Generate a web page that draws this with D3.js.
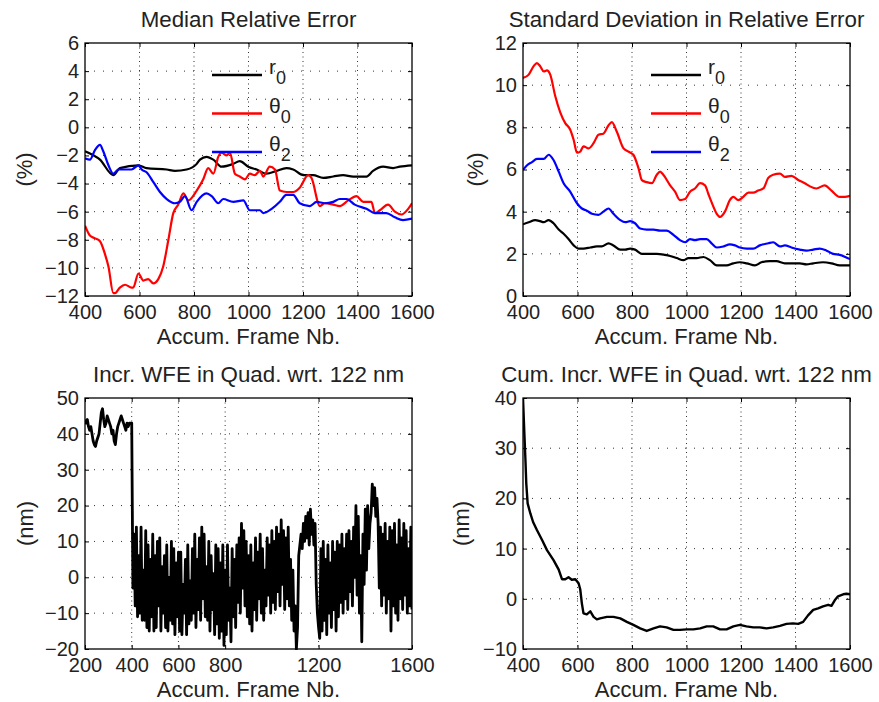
<!DOCTYPE html>
<html><head><meta charset="utf-8">
<script src="https://cdn.jsdelivr.net/npm/d3@7"></script>
<style>
body{margin:0;background:#fff}
text{font-family:"Liberation Sans",Arial,Helvetica,sans-serif;fill:#222}
</style>
</head><body>
<svg id="c" width="879" height="702"></svg>
<script>
// ---------------- DATA ----------------
// Panel 1: Median Relative Error (%)
const medR0X = [400,455,504,528,596,626,700,730,773,810,822,846,871,901,944,968,999,1030,1066,1103,1139,1164,1201,1237,1274,1311,1347,1384,1433,1457,1494,1531,1555,1600];
const medR0Y = [-1.7,-2.3,-3.4,-2.9,-2.7,-2.9,-3.0,-3.1,-3.0,-2.6,-2.3,-2.1,-2.3,-2.8,-2.6,-2.4,-2.8,-3.0,-3.3,-3.1,-2.9,-3.0,-3.4,-3.4,-3.6,-3.5,-3.4,-3.5,-3.5,-3.1,-2.8,-2.9,-2.8,-2.7];
const medT0X = [400,418,437,455,473,486,504,510,528,547,571,577,596,614,632,651,669,687,706,724,742,761,779,810,834,852,871,889,901,920,932,950,968,987,1005,1023,1042,1054,1078,1097,1115,1139,1164,1188,1219,1231,1262,1280,1311,1335,1366,1396,1421,1451,1464,1482,1512,1537,1561,1586,1600];
const medT0Y = [-7.0,-7.7,-7.9,-8.1,-9.0,-9.9,-11.8,-11.8,-11.4,-11.2,-11.4,-11.4,-10.4,-10.9,-10.8,-11.1,-10.8,-9.9,-8.0,-6.1,-5.5,-4.7,-5.2,-4.5,-3.7,-2.9,-3.3,-2.1,-1.8,-2.0,-1.8,-3.3,-3.5,-3.7,-3.3,-3.4,-3.1,-3.5,-2.8,-3.0,-4.5,-4.6,-4.6,-4.3,-3.4,-3.6,-5.6,-5.4,-5.5,-5.6,-5.2,-4.9,-5.3,-5.3,-6.1,-5.9,-5.5,-6.0,-6.2,-5.8,-5.4];
const medT2X = [400,418,437,455,467,486,504,522,547,571,596,608,626,651,675,700,730,748,767,791,810,846,865,889,907,944,981,1005,1042,1054,1085,1115,1139,1164,1188,1225,1250,1280,1311,1335,1360,1390,1433,1464,1506,1537,1567,1600];
const medT2Y = [-2.2,-2.3,-1.6,-1.25,-1.7,-2.7,-3.3,-3.0,-3.0,-3.0,-2.7,-3.0,-3.2,-3.9,-4.6,-5.1,-5.4,-5.3,-4.9,-5.9,-5.3,-4.7,-4.9,-5.4,-5.1,-5.3,-5.2,-5.9,-5.9,-6.1,-5.8,-5.3,-4.8,-4.8,-5.4,-5.6,-5.3,-5.4,-5.3,-5.1,-5.1,-5.5,-5.8,-6.1,-6.1,-6.4,-6.6,-6.5];

// Panel 2: Standard Deviation in Relative Error (%)
const stdR0X = [400,421,445,463,476,494,512,531,549,567,586,604,622,647,671,689,714,732,757,775,793,811,836,860,891,921,940,964,989,1007,1037,1062,1086,1111,1147,1172,1196,1221,1251,1275,1306,1330,1361,1391,1416,1440,1465,1501,1532,1562,1600];
const stdR0Y = [3.4,3.5,3.6,3.55,3.5,3.6,3.45,3.15,2.95,2.7,2.4,2.25,2.25,2.3,2.35,2.35,2.5,2.4,2.2,2.2,2.25,2.2,2.0,2.0,2.0,1.95,1.9,1.8,1.7,1.8,1.8,1.85,1.7,1.45,1.45,1.55,1.6,1.55,1.45,1.6,1.65,1.65,1.55,1.55,1.55,1.5,1.55,1.6,1.55,1.45,1.45];
const stdT0X = [400,421,439,451,463,476,488,500,518,537,555,573,586,598,610,622,641,659,677,695,714,726,744,769,787,805,824,836,854,873,891,903,915,940,958,976,995,1013,1031,1050,1068,1080,1092,1111,1123,1141,1159,1172,1190,1208,1227,1245,1263,1282,1300,1318,1343,1361,1385,1410,1434,1453,1477,1507,1532,1562,1581,1600];
const stdT0Y = [10.34,10.5,10.9,11.05,10.9,10.65,10.7,10.5,9.5,8.7,8.2,7.9,7.4,6.8,6.85,7.1,7.0,7.25,7.65,7.7,8.1,8.25,7.8,7.0,6.85,6.7,6.05,5.5,5.4,5.35,5.75,5.9,5.75,5.25,4.95,4.55,4.6,4.95,5.1,5.35,5.25,4.85,4.45,3.9,3.75,4.0,4.55,4.7,4.55,4.7,4.9,4.9,5.0,5.1,5.6,5.75,5.8,5.65,5.7,5.5,5.35,5.2,5.1,5.25,5.0,4.7,4.7,4.75];
const stdT2X = [400,415,433,451,476,494,512,531,549,573,598,616,634,653,677,695,714,732,757,775,793,811,830,854,879,903,927,952,976,995,1013,1031,1050,1074,1092,1111,1135,1159,1178,1196,1221,1245,1269,1300,1318,1343,1361,1385,1416,1440,1465,1489,1514,1538,1562,1600];
const stdT2Y = [5.98,6.2,6.35,6.5,6.5,6.7,6.45,5.9,5.35,4.95,4.4,4.15,4.05,3.9,3.85,4.0,4.15,3.9,3.6,3.5,3.55,3.45,3.2,3.15,3.15,3.1,3.1,2.9,2.65,2.55,2.7,2.65,2.7,2.7,2.5,2.3,2.35,2.45,2.4,2.3,2.25,2.25,2.4,2.5,2.55,2.35,2.4,2.3,2.2,2.15,2.2,2.25,2.15,2.0,1.95,1.75];

// Panel 3: Incr. WFE in Quad. wrt. 122 nm (nm), one value every 5 frames
const incrPreX = d3.range(200, 401, 5);
const incrPreY = [44,43,44,42,41,42,40,38,37,36.5,38,39,40,43,46,47,44,42,43,45,44,43,42,40,41,38,37,40,42,43,44,45,44,43,42,41,43,42,43,43,43];
const incrPostX = d3.range(405, 1601, 5);
const incrPostY = [
 -3,12,-8,14,-11,6,-10,14,-12,2,-12,13,-14,9,-15,5,-11,12,-15,6,
 -14,10,-8,11,-15,3,-10,6,-14,9,-15,0,-12,10,-13,8,-16,4,-11,7,
 -15,7,-16,-2,-10,5,-16,9,-13,-1,-12,8,-10,12,-14,5,-9,11,-12,14,
 -6,12,-11,3,-12,10,-15,6,-9,1,-16,9,-13,8,-17,4,-15,9,-19,2,
 -16,9,-12,-3,-18,8,-11,5,-14,9,-7,11,-10,15,-3,13,-8,10,-11,6,
 -13,9,-15,4,-9,11,-12,7,-6,12,-10,8,-12,2,-8,11,-5,9,-10,13,
 -7,10,-9,14,-4,12,-8,16,-2,13,-9,11,-6,14,-8,5,-12,2,-15,-8,
 -20,-14,6,9,12,8,15,10,17,11,18,9,19,12,16,9,15,-2,-10,-14,
 -17,8,-15,10,-12,5,-16,9,-10,4,-14,10,-9,7,-15,10,-11,9,-7,12,
 -10,8,-6,12,-9,13,-4,10,-8,14,0,20,-5,17,-10,6,-18,12,-2,19,
 2,20,8,15,18,26,20,25,17,22,15,-3,14,-8,12,-5,15,-10,10,-6,
 14,-15,13,-8,15,-10,9,-12,16,-6,11,-9,15,-5,13,-10,8,-8,14,-9];

// Panel 4: Cum. Incr. WFE in Quad. wrt. 122 nm (nm)
const cumX = [400,405,409,412,417,427,437,451,470,488,512,531,543,555,567,579,592,604,610,616,622,634,647,659,671,683,708,732,757,781,805,830,854,879,903,927,952,976,1001,1025,1050,1074,1098,1123,1147,1172,1196,1220,1245,1269,1294,1318,1343,1367,1391,1410,1428,1446,1465,1483,1501,1520,1532,1544,1556,1575,1587,1600];
const cumY = [40,32.9,27.6,23,19,17,15.3,13.7,11.7,9.7,7.7,5.8,3.9,3.9,4.3,3.8,3.9,3.1,1.9,-0.9,-2.9,-3.1,-2.5,-3.6,-4.1,-3.9,-3.6,-3.6,-3.9,-4.6,-5.2,-5.9,-6.4,-5.9,-5.5,-5.7,-6.2,-6.2,-6.1,-6.1,-5.9,-5.5,-5.5,-6.1,-6.1,-5.5,-5.2,-5.5,-5.7,-5.7,-5.9,-5.7,-5.4,-5.0,-4.9,-5.0,-4.6,-3.3,-2.2,-1.9,-1.5,-1.2,-1.4,-0.3,0.5,0.9,1.0,0.9];

// Ticks and labels
const xTicksA = [400,600,800,1000,1200,1400,1600];
const xTicksIncr = [200,400,600,800,1200,1600];
const yTicksMed = [-12,-10,-8,-6,-4,-2,0,2,4,6];
const yTicksStd = [0,2,4,6,8,10,12];
const yTicksIncr = [-20,-10,0,10,20,30,40,50];
const yTicksCum = [-10,0,10,20,30,40];
const titles = ["Median Relative Error","Standard Deviation in Relative Error","Incr. WFE in Quad. wrt. 122 nm","Cum. Incr. WFE in Quad. wrt. 122 nm"];
const yLabels = ["(%)","(%)","(nm)","(nm)"];
const xLabel = "Accum. Frame Nb.";
const legendBase = ["r","θ","θ"];
const legendSub = ["0","0","2"];
const seriesColors = ["#000000","#ff0000","#0000ff"];

// ---------------- DRAW ----------------
const svg = d3.select("#c");

function panel(cfg){
  const x = d3.scaleLinear().domain(cfg.xd).range([cfg.l, cfg.r]);
  const y = d3.scaleLinear().domain(cfg.yd).range([cfg.b, cfg.t]);
  const g = svg.append("g");
  // grid
  g.selectAll(".gx").data(cfg.xt.filter(v=>v>cfg.xd[0]&&v<cfg.xd[1])).enter().append("line")
    .attr("x1",d=>x(d)).attr("x2",d=>x(d)).attr("y1",cfg.t).attr("y2",cfg.b)
    .attr("stroke","#333").attr("stroke-width",1).attr("stroke-dasharray","1,3.5");
  g.selectAll(".gy").data(cfg.yt.filter(v=>v>cfg.yd[0]&&v<cfg.yd[1])).enter().append("line")
    .attr("y1",d=>y(d)).attr("y2",d=>y(d)).attr("x1",cfg.l).attr("x2",cfg.r)
    .attr("stroke","#333").attr("stroke-width",1).attr("stroke-dasharray","1,8");
  // data
  const clipId = "clip"+cfg.id;
  svg.append("clipPath").attr("id",clipId).append("rect")
    .attr("x",cfg.l).attr("y",cfg.t-1).attr("width",cfg.r-cfg.l).attr("height",cfg.b-cfg.t+2);
  const dg = g.append("g").attr("clip-path","url(#"+clipId+")");
  cfg.series.forEach(s=>{
    const pts = s.x.map((v,i)=>[v,s.y[i]]);
    const line = d3.line().x(d=>x(d[0])).y(d=>y(d[1])).curve(s.curve||d3.curveMonotoneX);
    dg.append("path").attr("d",line(pts)).attr("fill","none")
      .attr("stroke",s.color).attr("stroke-width",s.w||2.2).attr("stroke-linejoin","round");
  });
  // axes (ticks inward)
  const fmt = d3.format("");
  const ax = g.append("g").attr("transform",`translate(0,${cfg.b})`)
    .call(d3.axisBottom(x).tickValues(cfg.xt).tickSize(-4).tickPadding(cfg.xpad).tickFormat(fmt));
  const ay = g.append("g").attr("transform",`translate(${cfg.l},0)`)
    .call(d3.axisLeft(y).tickValues(cfg.yt).tickSize(-4).tickPadding(6).tickFormat(fmt));
  const at = g.append("g").attr("transform",`translate(0,${cfg.t})`)
    .call(d3.axisTop(x).tickValues(cfg.xt).tickSize(-4).tickFormat(""));
  const ar = g.append("g").attr("transform",`translate(${cfg.r},0)`)
    .call(d3.axisRight(y).tickValues(cfg.yt).tickSize(-4).tickFormat(""));
  [ax,ay,at,ar].forEach(a=>{
    a.select(".domain").remove();
    a.selectAll("line").attr("stroke","#000");
    a.selectAll("text").attr("font-size",20).attr("font-family",'"Liberation Sans",Arial,sans-serif').attr("fill","#222");
  });
  g.append("rect").attr("x",cfg.l).attr("y",cfg.t).attr("width",cfg.r-cfg.l).attr("height",cfg.b-cfg.t)
    .attr("fill","none").attr("stroke","#000").attr("stroke-width",1.3);
  // title, labels
  g.append("text").attr("x",(cfg.l+cfg.r)/2).attr("y",cfg.titleY).attr("text-anchor","middle")
    .attr("font-size",22.3).text(cfg.title);
  g.append("text").attr("x",(cfg.l+cfg.r)/2).attr("y",cfg.xlabY).attr("text-anchor","middle")
    .attr("font-size",22).text(xLabel);
  g.append("text").attr("transform",`translate(${cfg.ylabX},${(cfg.t+cfg.b)/2}) rotate(-90)`)
    .attr("text-anchor","middle").attr("font-size",22).text(cfg.ylab);
  // legend
  if(cfg.legend){
    const L = cfg.legend;
    legendBase.forEach((b,i)=>{
      const yy = L.y0 + i*L.dy;
      g.append("line").attr("x1",L.x0).attr("x2",L.x1).attr("y1",yy).attr("y2",yy)
        .attr("stroke",seriesColors[i]).attr("stroke-width",2.4);
      const t = g.append("text").attr("x",L.x1+7).attr("y",yy-1).attr("font-size",21);
      t.append("tspan").text(b);
      t.append("tspan").attr("dy",10).attr("font-size",18).text(legendSub[i]);
    });
  }
}

panel({id:1,l:85,r:412,t:43,b:296,xd:[400,1600],yd:[-12,6],xt:xTicksA,yt:yTicksMed,xpad:9,
  title:titles[0],titleY:27,xlabY:344,ylab:yLabels[0],ylabX:32,
  legend:{x0:212,x1:262,y0:75,dy:38.5},
  series:[{x:medR0X,y:medR0Y,color:seriesColors[0]},{x:medT0X,y:medT0Y,color:seriesColors[1]},{x:medT2X,y:medT2Y,color:seriesColors[2]}]});

panel({id:2,l:523,r:850,t:43,b:296,xd:[400,1600],yd:[0,12],xt:xTicksA,yt:yTicksStd,xpad:9,
  title:titles[1],titleY:27,xlabY:344,ylab:yLabels[1],ylabX:483,
  legend:{x0:651,x1:701,y0:75,dy:38.5},
  series:[{x:stdR0X,y:stdR0Y,color:seriesColors[0]},{x:stdT0X,y:stdT0Y,color:seriesColors[1]},{x:stdT2X,y:stdT2Y,color:seriesColors[2]}]});

panel({id:3,l:85,r:412,t:398,b:649,xd:[200,1600],yd:[-20,50],xt:xTicksIncr,yt:yTicksIncr,xpad:9,
  title:titles[2],titleY:382,xlabY:697,ylab:yLabels[2],ylabX:33,
  series:[{x:incrPreX.concat(incrPostX),y:incrPreY.concat(incrPostY),color:"#000",w:2.8,curve:d3.curveLinear}]});

panel({id:4,l:523,r:850,t:398,b:649,xd:[400,1600],yd:[-10,40],xt:xTicksA,yt:yTicksCum,xpad:9,
  title:titles[3],titleY:382,xlabY:697,ylab:yLabels[3],ylabX:469,
  series:[{x:cumX,y:cumY,color:"#000",w:2.4,curve:d3.curveLinear}]});
</script>
</body></html>
